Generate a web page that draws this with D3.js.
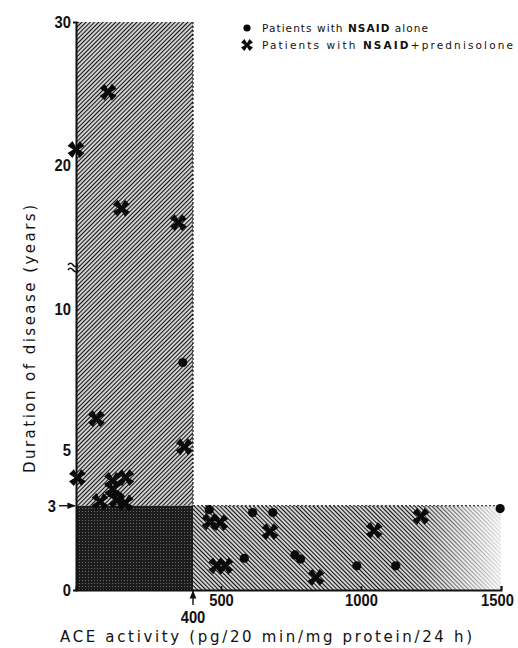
<!DOCTYPE html>
<html>
<head>
<meta charset="utf-8">
<script src="https://cdn.jsdelivr.net/npm/d3@7"></script>
<style>
  body { margin: 0; background: #fff; }
  svg { display: block; }
  .num { font-family: "Liberation Sans", Arial, sans-serif; font-weight: bold; font-size: 17px; fill: #111; }
  .title { font-family: "DejaVu Sans", "Noto Sans", sans-serif; fill: #111; }
</style>
</head>
<body>
<div id="graph"></div>
<script>
// ACE activity (pg/20 min/mg protein/24 h) vs duration of disease (years)
var nsaidAlone = [
  [365, 8.1], [458, 2.86], [613, 2.76], [685, 2.76], [583, 1.13],
  [764, 1.25], [784, 1.1], [985, 0.86], [1124, 0.86], [1497, 2.9]
]
var nsaidPred = [
  [0, 21.1], [110, 25.1], [155, 17], [350, 16], [70, 6.1], [370, 5.1],
  [5, 4.0], [125, 3.9], [170, 4.0], [82, 3.15], [126, 3.6], [140, 3.2], [168, 3.1],
  [461, 2.43], [496, 2.4], [675, 2.08], [485, 0.86], [514, 0.86],
  [839, 0.45], [1047, 2.12], [1214, 2.62]
]
var yTicks = [0, 5, 10, 20, 30]
var xTicks = [500, 1000, 1500]
var aceCut = 400   // pg/20 min/mg protein/24 h
var durCut = 3     // years

var width = 518, height = 648
var digitW = 8.2   // condensed look for the numbers

var svg = d3.select('#graph').html('')
  .append('svg')
    .attr('width', width)
    .attr('height', height)

// broken y axis: lower part 0-11.5, upper part 12.9-30
var y = d3.scaleLinear()
    .domain([0, 11.5, 12.9, 30])
    .range([590, 267, 267, 22])

var x = d3.scaleLinear()
    .domain([0, 400, 1500])
    .range([76, 193, 501])

var defs = svg.append('defs')

// fine diagonal hatching
function hatch(id, angle){
  var p = defs.append('pattern')
      .attr('id', id)
      .attr('patternUnits', 'userSpaceOnUse')
      .attr('width', 3)
      .attr('height', 3)
      .attr('patternTransform', 'rotate(' + angle + ')')
  p.append('rect').attr('width', 3).attr('height', 3).attr('fill', '#fff')
  p.append('line')
      .attr('x1', 1.5).attr('x2', 1.5)
      .attr('y1', 0).attr('y2', 3)
      .attr('stroke', '#111')
      .attr('stroke-width', 1.4)
}
hatch('hatchUp', 45)
hatch('hatchDown', -45)

// dark stipple
var st = defs.append('pattern')
    .attr('id', 'stipple')
    .attr('patternUnits', 'userSpaceOnUse')
    .attr('width', 3).attr('height', 3)
st.append('rect').attr('width', 3).attr('height', 3).attr('fill', '#1c1c1c')
st.append('rect').attr('x', 1).attr('y', 1).attr('width', 1).attr('height', 1).attr('fill', '#6a6a6a')

// fade out toward the right end of the lower band
var grad = defs.append('linearGradient')
    .attr('id', 'fade')
    .attr('gradientUnits', 'userSpaceOnUse')
    .attr('x1', x(1100)).attr('x2', x(1500))
    .attr('y1', 0).attr('y2', 0)
grad.append('stop').attr('offset', 0).attr('stop-color', '#fff')
grad.append('stop').attr('offset', 0.3).attr('stop-color', '#eee')
grad.append('stop').attr('offset', 1).attr('stop-color', '#222')
defs.append('mask')
    .attr('id', 'fadeMask')
    .attr('maskUnits', 'userSpaceOnUse')
  .append('rect')
    .attr('x', 0).attr('y', 0)
    .attr('width', width).attr('height', height)
    .attr('fill', 'url(#fade)')

// shaded regions
svg.append('rect')
    .attr('x', x(0)).attr('y', y(30))
    .attr('width', x(aceCut) - x(0))
    .attr('height', y(durCut) - y(30))
    .attr('fill', 'url(#hatchUp)')

svg.append('rect')
    .attr('x', x(aceCut)).attr('y', y(durCut))
    .attr('width', x(1500) - x(aceCut))
    .attr('height', y(0) - y(durCut))
    .attr('fill', 'url(#hatchDown)')
    .attr('mask', 'url(#fadeMask)')

svg.append('rect')
    .attr('x', x(0)).attr('y', y(durCut))
    .attr('width', x(aceCut) - x(0))
    .attr('height', y(0) - y(durCut))
    .attr('fill', 'url(#stipple)')

// dashed borders
svg.append('line')
    .attr('x1', x(aceCut)).attr('x2', x(aceCut))
    .attr('y1', y(30)).attr('y2', y(durCut))
    .attr('stroke', '#111').attr('stroke-width', 1.2)
    .attr('stroke-dasharray', '2,2')
svg.append('line')
    .attr('x1', x(aceCut)).attr('x2', x(1500))
    .attr('y1', y(durCut)).attr('y2', y(durCut))
    .attr('stroke', '#111').attr('stroke-width', 1.2)
    .attr('stroke-dasharray', '2,2')

function condense(sel){
  sel.attr('class', 'num')
     .attr('textLength', function(){ return this.textContent.length * digitW })
     .attr('lengthAdjust', 'spacingAndGlyphs')
}

// axes
var yAxis = svg.append('g')
    .attr('transform', 'translate(' + x(0) + ',0)')
    .call(d3.axisLeft(y).tickValues(yTicks).tickSize(3).tickPadding(2).tickFormat(d3.format('d')))
yAxis.select('.domain').attr('stroke', '#111').attr('stroke-width', 2)
yAxis.selectAll('.tick line').attr('stroke', '#111').attr('x2', 3)
yAxis.selectAll('.tick text').call(condense)

var xAxis = svg.append('g')
    .attr('transform', 'translate(0,' + y(0) + ')')
    .call(d3.axisBottom(x).tickValues(xTicks).tickSize(-4).tickPadding(5).tickFormat(d3.format('d')))
xAxis.select('.domain').attr('stroke', '#111').attr('stroke-width', 2)
xAxis.selectAll('.tick line').attr('stroke', '#111').attr('stroke-width', 1.5)
xAxis.selectAll('.tick text').attr('dy', '0.62em').call(condense)
// keep the last label inside the page
xAxis.selectAll('.tick text').filter(function(d){ return d === 1500 }).attr('x', -4)

// axis break mark
var bx = x(0) - 8
svg.append('path')
    .attr('d', 'M' + bx + ',' + (y(12) - 2) + ' q2.5,-3.5 5,0 t5,0 M' + bx + ',' + (y(12) + 3) + ' q2.5,-3.5 5,0 t5,0')
    .attr('fill', 'none')
    .attr('stroke', '#111')
    .attr('stroke-width', 1.5)

// arrow markers for the cut-offs
defs.append('marker')
    .attr('id', 'arrow')
    .attr('viewBox', '0 0 10 10')
    .attr('refX', 9).attr('refY', 5)
    .attr('markerWidth', 6).attr('markerHeight', 6)
    .attr('orient', 'auto')
  .append('path')
    .attr('d', 'M0,1 L10,5 L0,9 Z')
    .attr('fill', '#111')

svg.append('line')
    .attr('x1', x(0) - 17).attr('x2', x(0) - 1)
    .attr('y1', y(durCut)).attr('y2', y(durCut))
    .attr('stroke', '#111').attr('stroke-width', 1.4)
    .attr('marker-end', 'url(#arrow)')
svg.append('text')
    .attr('x', x(0) - 20).attr('y', y(durCut))
    .attr('dy', '0.35em')
    .attr('text-anchor', 'end')
    .text(durCut)
    .call(condense)

svg.append('line')
    .attr('x1', x(aceCut)).attr('x2', x(aceCut))
    .attr('y1', y(0) + 15).attr('y2', y(0) + 1)
    .attr('stroke', '#111').attr('stroke-width', 1.4)
    .attr('marker-end', 'url(#arrow)')
svg.append('text')
    .attr('x', x(aceCut)).attr('y', y(0) + 33)
    .attr('text-anchor', 'middle')
    .text(aceCut)
    .call(condense)

// markers
function crossPath(r, w, ri){
  var pts = []
  for (var k = 0; k < 4; k++){
    var t = Math.PI / 4 + k * Math.PI / 2
    var c = Math.cos(t), s = Math.sin(t)
    pts.push([r * c + w * s, r * s - w * c])
    pts.push([r * c - w * s, r * s + w * c])
    var t2 = t + Math.PI / 4
    pts.push([ri * Math.cos(t2), ri * Math.sin(t2)])
  }
  return 'M' + pts.map(function(p){ return p[0].toFixed(2) + ',' + p[1].toFixed(2) }).join('L') + 'Z'
}
var bigCross = crossPath(8.5, 3.4, 2.8)

svg.append('g').selectAll('circle')
  .data(nsaidAlone)
  .enter().append('circle')
    .attr('cx', function(d){ return x(d[0]) })
    .attr('cy', function(d){ return y(d[1]) })
    .attr('r', 4.6)
    .attr('fill', '#0a0a0a')

svg.append('g').selectAll('path')
  .data(nsaidPred)
  .enter().append('path')
    .attr('d', bigCross)
    .attr('transform', function(d){ return 'translate(' + x(d[0]) + ',' + y(d[1]) + ')' })
    .attr('fill', '#0a0a0a')

// legend
var legend = svg.append('g').attr('transform', 'translate(247,0)')
legend.append('circle').attr('cx', 0).attr('cy', 28).attr('r', 3.6).attr('fill', '#0a0a0a')
legend.append('path').attr('d', crossPath(6, 2.4, 2)).attr('transform', 'translate(0,45)').attr('fill', '#0a0a0a')

var l1 = legend.append('text').attr('class', 'title')
    .attr('x', 15).attr('y', 32)
    .style('font-size', '10.5px')
    .attr('textLength', 166).attr('lengthAdjust', 'spacing')
l1.append('tspan').text('Patients with ')
l1.append('tspan').style('font-weight', 'bold').text('NSAID')
l1.append('tspan').text(' alone')

var l2 = legend.append('text').attr('class', 'title')
    .attr('x', 15).attr('y', 49)
    .style('font-size', '10.5px')
    .attr('textLength', 251).attr('lengthAdjust', 'spacing')
l2.append('tspan').text('Patients with ')
l2.append('tspan').style('font-weight', 'bold').text('NSAID')
l2.append('tspan').text('+prednisolone')

// axis titles
svg.append('text').attr('class', 'title')
    .attr('x', 266).attr('y', 642)
    .attr('text-anchor', 'middle')
    .style('font-size', '15px')
    .attr('textLength', 412).attr('lengthAdjust', 'spacing')
    .text('ACE activity (pg/20 min/mg protein/24 h)')

svg.append('text').attr('class', 'title')
    .attr('transform', 'translate(35,339) rotate(-90)')
    .attr('text-anchor', 'middle')
    .style('font-size', '15px')
    .attr('textLength', 268).attr('lengthAdjust', 'spacing')
    .text('Duration of disease (years)')
</script>
</body>
</html>
